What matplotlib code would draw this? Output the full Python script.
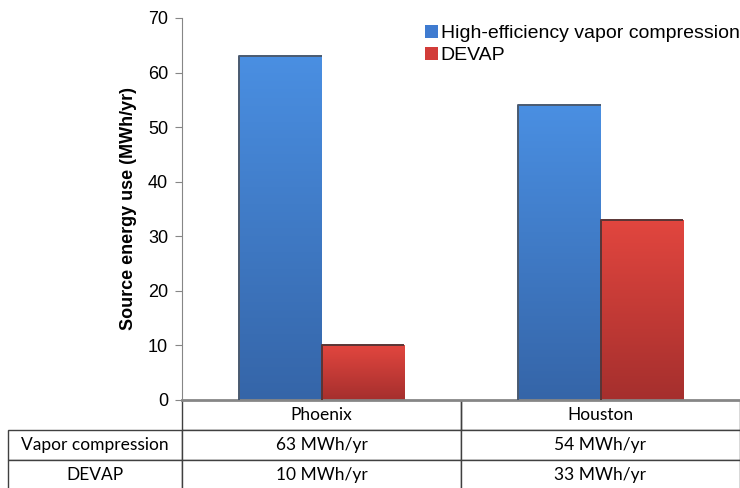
import numpy as np
import matplotlib.pyplot as plt
from matplotlib.colors import LinearSegmentedColormap
from matplotlib.table import Table

cities = ["Phoenix", "Houston"]
vapor = [63, 54]
devap = [10, 33]
series_names = ["High-efficiency vapor compression", "DEVAP"]
row_names = ["Vapor compression", "DEVAP"]
units = "MWh/yr"

plt.rcParams["font.family"] = ["Liberation Sans", "DejaVu Sans"]

fig = plt.figure(figsize=(7.4, 4.88), dpi=100)
ax = fig.add_axes([182 / 740, 88 / 488, 558 / 740, 382 / 488])

x = np.arange(len(cities))
w = 0.294
b1 = ax.bar(x - w / 2, vapor, w, color="#3f7bd0", label=series_names[0])
b2 = ax.bar(x + w / 2, devap, w, color="#d23c39", label=series_names[1])


def shade(bars, top, bottom, edge):
    # vertical gradient inside each bar, dark line along top and left
    cmap = LinearSegmentedColormap.from_list("", [bottom, top])
    grad = np.linspace(0, 1, 256).reshape(-1, 1)
    for p in bars:
        x0, y0 = p.get_x(), p.get_y()
        bw, bh = p.get_width(), p.get_height()
        im = ax.imshow(grad, cmap=cmap, origin="lower", aspect="auto",
                       extent=[x0, x0 + bw, y0, y0 + bh], zorder=2.5)
        im.set_clip_path(p)
        ax.plot([x0, x0, x0 + bw], [y0, y0 + bh, y0 + bh], color=edge,
                lw=1.4, zorder=3, solid_capstyle="butt")


shade(b1, "#4a8fe2", "#3565a8", "#4a5a70")
shade(b2, "#e2463f", "#a52f2d", "#5a3535")

ax.set_xlim(-0.5, 1.5)
ax.set_ylim(0, 70)
ax.set_yticks(range(0, 71, 10))
ax.set_xticks([])
ax.tick_params(axis="y", length=5, color="#868686", labelsize=13, pad=5)
for s in ["top", "right"]:
    ax.spines[s].set_visible(False)
ax.spines["left"].set_color("#868686")
ax.spines["bottom"].set_color("#868686")
ax.spines["bottom"].set_linewidth(2)
ax.set_ylabel("Source energy use (MWh/yr)", fontsize=13, fontweight="bold",
              labelpad=8)

ax.legend(loc="upper left", bbox_to_anchor=(425 / 740, 1 - 25 / 488),
          bbox_transform=fig.transFigure, frameon=False, fontsize=14,
          handlelength=0.65, handleheight=0.65, handletextpad=0.15,
          labelspacing=0.25, borderpad=0, borderaxespad=0)

# data table under the axis
rows = [[f"{v} {units}" for v in vapor], [f"{v} {units}" for v in devap]]
lab_w = 174 / 558
col_w = 279 / 558
row_h = 30 / 382
tbl = Table(ax, bbox=[-lab_w, -3 * row_h, lab_w + 2 * col_w, 3 * row_h])
for j, name in enumerate(cities):
    c = tbl.add_cell(0, j + 1, col_w, row_h, text=name, loc="center")
    c.visible_edges = "LRB"
for i, (lab, vals) in enumerate(zip(row_names, rows)):
    tbl.add_cell(i + 1, 0, lab_w, row_h, text=lab, loc="center")
    for j, v in enumerate(vals):
        tbl.add_cell(i + 1, j + 1, col_w, row_h, text=v, loc="center")
tbl.auto_set_font_size(False)
tbl.set_fontsize(12.5)
for cell in tbl.get_celld().values():
    cell.set_edgecolor("#404040")
    cell.set_linewidth(1)
    cell.get_text().set_fontfamily("Lato")
ax.add_table(tbl)

fig.savefig("out.png", dpi=100)
